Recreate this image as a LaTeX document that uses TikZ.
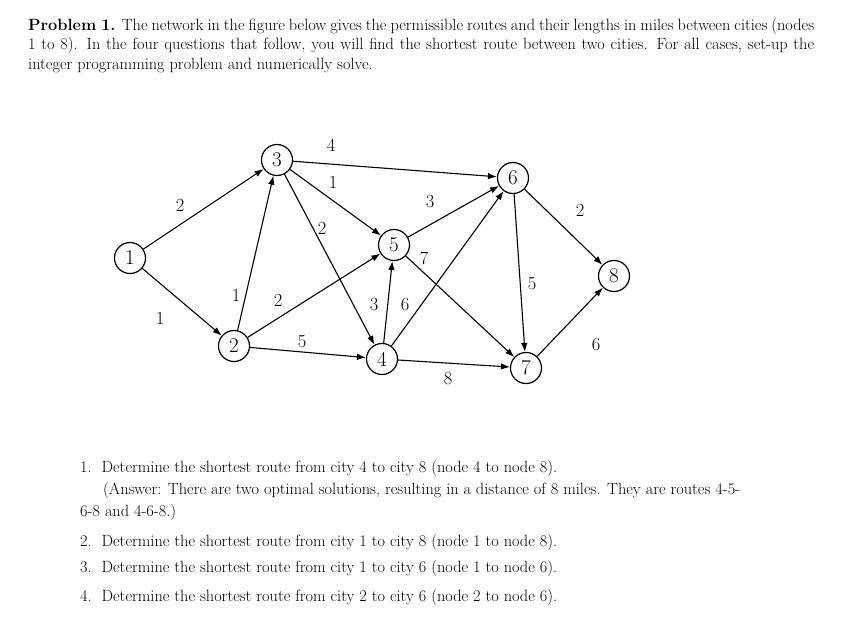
\documentclass[tikz,border=0pt]{standalone}
\usepackage{fontspec}
\usetikzlibrary{arrows.meta}
\begin{document}
\begin{tikzpicture}[x=1pt,y=-1pt,
  vtx/.style={circle,draw,line width=1.2pt,minimum size=31pt,inner sep=0pt,font=\fontsize{21}{21}\selectfont},
  edge/.style={-{Latex[length=9pt,width=6.5pt]},line width=1.1pt},
  wt/.style={font=\fontsize{18.5}{18.5}\selectfont},
  txt/.style={anchor=west,inner sep=0pt,font=\fontsize{16.3}{19}\selectfont}]
\useasboundingbox (0,0) rectangle (864,618);
\node[anchor=north west,inner sep=0pt,text width=786pt,align=justify,font=\fontsize{16.3}{19.5}\selectfont] (p) at (28,18)
{\textbf{Problem 1.} The network in the figure below gives the permissible routes and their lengths in miles between cities (nodes 1 to 8). In the four questions that follow, you will find the shortest route between two cities. For all cases, set-up the integer programming problem and numerically solve.};
\node[vtx] (n1) at (130,258) {1};
\node[vtx] (n2) at (234,346) {2};
\node[vtx] (n3) at (277,160) {3};
\node[vtx] (n4) at (382,359) {4};
\node[vtx] (n5) at (394,245) {5};
\node[vtx] (n6) at (513,178) {6};
\node[vtx] (n7) at (526,368) {7};
\node[vtx] (n8) at (614,276) {8};
\draw[edge] (n1)--(n3); \draw[edge] (n1)--(n2);
\draw[edge] (n2)--(n3); \draw[edge] (n2)--(n5); \draw[edge] (n2)--(n4);
\draw[edge] (n3)--(n6); \draw[edge] (n3)--(n5); \draw[edge] (n3)--(n4);
\draw[edge] (n4)--(n5); \draw[edge] (n4)--(n6); \draw[edge] (n4)--(n7);
\draw[edge] (n5)--(n6); \draw[edge] (n5)--(n7);
\draw[edge] (n6)--(n7); \draw[edge] (n6)--(n8); \draw[edge] (n7)--(n8);
\node[wt] (w13) at (180,205) {2};
\node[wt] (w12) at (160,318) {1};
\node[wt] (w23) at (236,295) {1};
\node[wt] (w25) at (278,300) {2};
\node[wt] (w24) at (302,342) {5};
\node[wt] (w36) at (331,145) {4};
\node[wt] (w35) at (333,182) {1};
\node[wt] (w34) at (322,228) {2};
\node[wt] (w56) at (430,202) {3};
\node[wt] (w57) at (424,258) {7};
\node[wt] (w45) at (374,305) {3};
\node[wt] (w46) at (405,305) {6};
\node[wt] (w47) at (448,379) {8};
\node[wt] (w67) at (532,284) {5};
\node[wt] (w68) at (580,210) {2};
\node[wt] (w78) at (596,345) {6};
\node[txt] (q1) at (80,468) {1.\ \ Determine the shortest route from city 4 to city 8 (node 4 to node 8).};
\node[txt] (q1a) at (103,490) {(Answer: There are two optimal solutions, resulting in a distance of 8 miles. They are routes 4-5-};
\node[txt] (q1b) at (80,512) {6-8 and 4-6-8.)};
\node[txt] (q2) at (80,542) {2.\ \ Determine the shortest route from city 1 to city 8 (node 1 to node 8).};
\node[txt] (q3) at (80,568) {3.\ \ Determine the shortest route from city 1 to city 6 (node 1 to node 6).};
\node[txt] (q4) at (80,597) {4.\ \ Determine the shortest route from city 2 to city 6 (node 2 to node 6).};
\end{tikzpicture}
\end{document}
